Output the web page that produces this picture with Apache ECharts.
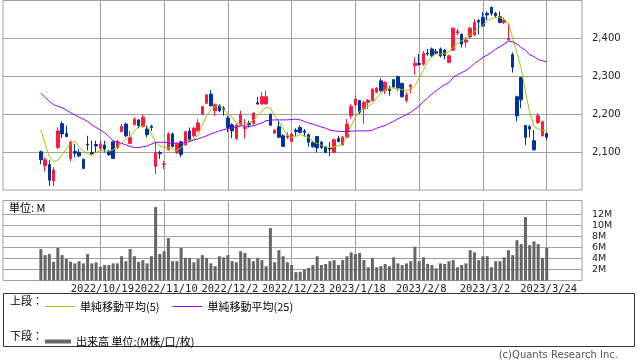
<!DOCTYPE html>
<html><head><meta charset="utf-8">
<script src="https://cdn.jsdelivr.net/npm/echarts@6/dist/echarts.min.js"></script>
<style>html,body{margin:0;padding:0;background:#fff}#c{width:638px;height:362px}</style>
</head><body><div id="c"></div>
<script>
const dates = [
'2022/9/28','2022/9/29','2022/9/30','2022/10/3','2022/10/4','2022/10/5','2022/10/6','2022/10/7','2022/10/11','2022/10/12',
'2022/10/13','2022/10/14','2022/10/17','2022/10/18','2022/10/19','2022/10/20','2022/10/21','2022/10/24','2022/10/25','2022/10/26',
'2022/10/27','2022/10/28','2022/10/31','2022/11/1','2022/11/2','2022/11/4','2022/11/7','2022/11/8','2022/11/9','2022/11/10',
'2022/11/11','2022/11/14','2022/11/15','2022/11/16','2022/11/17','2022/11/18','2022/11/21','2022/11/22','2022/11/24','2022/11/25',
'2022/11/28','2022/11/29','2022/11/30','2022/12/1','2022/12/2','2022/12/5','2022/12/6','2022/12/7','2022/12/8','2022/12/9',
'2022/12/12','2022/12/13','2022/12/14','2022/12/15','2022/12/16','2022/12/19','2022/12/20','2022/12/21','2022/12/22','2022/12/23',
'2022/12/26','2022/12/27','2022/12/28','2022/12/29','2022/12/30','2023/1/4','2023/1/5','2023/1/6','2023/1/10','2023/1/11',
'2023/1/12','2023/1/13','2023/1/16','2023/1/17','2023/1/18','2023/1/19','2023/1/20','2023/1/23','2023/1/24','2023/1/25',
'2023/1/26','2023/1/27','2023/1/30','2023/1/31','2023/2/1','2023/2/2','2023/2/3','2023/2/6','2023/2/7','2023/2/8',
'2023/2/9','2023/2/10','2023/2/13','2023/2/14','2023/2/15','2023/2/16','2023/2/17','2023/2/20','2023/2/21','2023/2/22',
'2023/2/24','2023/2/27','2023/2/28','2023/3/1','2023/3/2','2023/3/3','2023/3/6','2023/3/7','2023/3/8','2023/3/9',
'2023/3/10','2023/3/13','2023/3/14','2023/3/15','2023/3/16','2023/3/17','2023/3/20','2023/3/22','2023/3/23','2023/3/24'];
const tickLabels = ['2022/10/19','2022/11/10','2022/12/2','2022/12/23','2023/1/18','2023/2/8','2023/3/2','2023/3/24'];
const priceTicks = [2100, 2200, 2300, 2400];
const volTicks = [2, 4, 6, 8, 10, 12];

const open = [
2101,2064,2067,2024,2112,2175,2149,2083,2102,2099,
2081,2121,2099,2120,2110,2119,2102,2127,2112,2154,
2174,2123,2172,2185,2167,2161,2168,2062,2099,2067,
2106,2148,2099,2127,2119,2156,2143,2156,2200,2229,
2253,2209,2222,2216,2190,2172,2136,2171,2162,2176,
2176,2230,2227,2227,2200,2150,2167,2143,2139,2128,
2158,2165,2156,2146,2126,2141,2126,2112,2110,2099,
2136,2119,2139,2196,2224,2236,2214,2231,2236,2258,
2288,2262,2266,2291,2299,2281,2236,2273,2328,2334,
2332,2361,2372,2365,2372,2369,2337,2369,2414,2411,
2390,2404,2409,2447,2455,2466,2482,2466,2457,2442,
2396,2357,2246,2297,2170,2167,2130,2178,2143,2149];
const close = [
2080,2080,2026,2053,2156,2148,2141,2126,2097,2090,
2057,2119,2095,2116,2121,2108,2093,2083,2128,2168,
2143,2139,2187,2170,2192,2146,2165,2099,2096,2069,
2149,2115,2121,2094,2154,2133,2163,2177,2220,2251,
2222,2225,2209,2213,2165,2156,2171,2200,2165,2172,
2203,2227,2246,2246,2171,2158,2139,2115,2143,2148,
2154,2152,2152,2126,2114,2111,2112,2099,2108,2133,
2128,2139,2174,2220,2240,2205,2231,2237,2266,2269,
2262,2284,2262,2272,2269,2246,2251,2277,2334,2331,
2361,2359,2354,2361,2354,2354,2354,2427,2418,2385,
2396,2427,2442,2443,2433,2462,2466,2460,2442,2448,
2400,2324,2196,2238,2139,2161,2106,2196,2180,2139];
const high = [
2104,2086,2079,2060,2165,2181,2170,2130,2121,2108,
2083,2143,2130,2130,2130,2130,2106,2128,2132,2174,
2178,2156,2192,2187,2199,2170,2172,2126,2104,2077,
2152,2152,2126,2130,2156,2165,2167,2187,2222,2253,
2264,2229,2227,2222,2196,2176,2176,2209,2187,2183,
2205,2246,2258,2262,2202,2161,2183,2148,2152,2152,
2163,2170,2161,2149,2130,2143,2130,2117,2126,2134,
2143,2143,2187,2227,2251,2237,2236,2240,2269,2272,
2295,2287,2275,2293,2302,2284,2258,2280,2350,2359,
2367,2372,2376,2372,2376,2372,2357,2429,2425,2413,
2404,2431,2451,2451,2470,2471,2484,2470,2471,2455,
2440,2363,2249,2299,2172,2172,2158,2203,2183,2152];
const low = [
2068,2049,2011,2010,2108,2137,2139,2075,2086,2086,
2055,2104,2090,2099,2104,2099,2090,2082,2108,2152,
2139,2121,2172,2163,2165,2139,2156,2042,2082,2055,
2104,2112,2095,2086,2117,2130,2139,2155,2199,2227,
2220,2196,2205,2196,2152,2137,2132,2170,2136,2165,
2172,2225,2225,2225,2170,2149,2137,2115,2134,2126,
2143,2149,2141,2114,2112,2099,2108,2097,2089,2097,
2126,2117,2137,2187,2221,2200,2174,2214,2234,2255,
2258,2253,2249,2269,2262,2244,2231,2255,2304,2328,
2328,2354,2350,2359,2350,2345,2334,2367,2407,2376,
2376,2398,2407,2411,2431,2448,2460,2454,2440,2438,
2394,2310,2181,2216,2119,2139,2104,2174,2141,2132];
const volume = [
5.7,4.6,4.8,3.4,5.9,4.6,3.9,3.4,3.1,3.5,
3.1,4.8,3.1,3.3,2.5,2.8,2.8,3.1,3.1,4.4,
3.5,5.7,4.4,3.4,3.7,3.1,4.4,13.3,4.8,5.3,
7.7,3.5,3.5,5.9,4.1,4.1,3.3,3.9,4.6,4.1,
3.1,2.6,4.4,4.2,4.6,3.5,3.3,5.3,5.0,4.1,
3.5,4.1,3.7,2.6,9.5,3.3,5.5,4.4,3.3,2.8,
1.5,1.6,2.0,2.3,2.8,4.4,2.8,3.0,3.5,3.7,
2.8,3.7,4.4,5.1,4.8,5.0,3.7,2.4,4.1,2.4,
2.6,3.0,2.6,4.2,3.1,2.8,3.1,3.5,6.1,3.5,
4.2,3.0,2.8,2.2,3.1,3.0,3.5,3.7,2.4,2.8,
3.1,5.5,5.1,3.7,4.4,4.4,2.4,3.5,3.5,4.2,
5.5,4.6,7.3,6.6,11.5,6.4,7.1,6.6,4.1,5.9];
const ma5 = [
2159,2121,2088,2075,2079,2093,2108,2121,2130,2114,
2102,2095,2093,2099,2104,2103,2102,2106,2114,2123,
2134,2141,2156,2167,2168,2169,2148,2126,2116,2112,
2112,2108,2104,2111,2126,2129,2134,2146,2172,2196,
2211,2221,2223,2211,2202,2192,2177,2173,2173,2178,
2183,2196,2209,2218,2216,2196,2181,2161,2144,2139,
2141,2146,2143,2139,2127,2123,2118,2114,2112,2114,
2117,2121,2141,2169,2193,2209,2216,2221,2228,2243,
2255,2264,2269,2269,2267,2265,2262,2265,2275,2295,
2316,2339,2352,2359,2359,2360,2366,2376,2387,2394,
2400,2410,2418,2425,2436,2447,2452,2455,2455,2450,
2440,2400,2362,2321,2259,2205,2168,2161,2158,2156];
const ma25 = [
2256,2244,2234,2225,2221,2217,2211,2204,2198,2192,
2187,2181,2172,2165,2158,2151,2141,2130,2127,2123,
2119,2115,2112,2112,2114,2116,2121,2126,2126,2126,
2124,2123,2123,2123,2125,2128,2132,2135,2139,2143,
2148,2152,2156,2159,2162,2164,2166,2169,2169,2167,
2170,2173,2177,2183,2184,2185,2185,2185,2185,2186,
2187,2185,2181,2177,2174,2170,2166,2163,2158,2156,
2155,2154,2154,2155,2156,2156,2156,2156,2158,2163,
2167,2170,2176,2181,2188,2193,2199,2205,2213,2222,
2233,2243,2253,2262,2270,2278,2283,2297,2304,2310,
2315,2324,2334,2341,2350,2356,2363,2372,2378,2385,
2393,2391,2385,2376,2369,2357,2352,2344,2341,2338];

const idx = dates.map((d, i) => i);
const tickIdx = tickLabels.map(t => dates.indexOf(t));
const candleData = idx.map(i => [i, open[i], close[i], low[i], high[i]]);
const volData = idx.map(i => [i, volume[i]]);
const ma5Data = idx.map(i => [i, ma5[i]]);
const ma25Data = idx.map(i => [i, ma25[i]]);

const GRID = '#a0a0a0';
const TXT = '#222';
const XMIN = -8.9, XMAX = 127.3;
const UP = '#ff1a40', DOWN = '#003399';
const C5 = '#99cc00', C25 = '#9900ff', CV = '#666666';
const NAME5 = '単純移動平均(5)', NAME25 = '単純移動平均(25)', NAMEV = '出来高 単位:(M株/口/枚)';
const JP = 'Noto Sans CJK JP';

const chart = echarts.init(document.getElementById('c'), null, {renderer: 'canvas'});
chart.setOption({
  animation: false,
  backgroundColor: '#fff',
  grid: [
    {left: 3, width: 579, top: 0.5, height: 189.5, show: true, borderColor: GRID, borderWidth: 1, backgroundColor: '#fff'},
    {left: 3, width: 579, top: 200.5, height: 80, show: true, borderColor: GRID, borderWidth: 1, backgroundColor: '#fff'}
  ],
  xAxis: [
    {type: 'value', gridIndex: 0, min: XMIN, max: XMAX,
     axisLine: {show: false}, axisTick: {show: false, customValues: tickIdx},
     axisLabel: {show: false, customValues: tickIdx},
     splitLine: {show: true, lineStyle: {color: GRID, width: 1}}},
    {type: 'value', gridIndex: 1, min: XMIN, max: XMAX,
     axisLine: {show: false}, axisTick: {show: false, customValues: tickIdx},
     axisLabel: {show: true, customValues: tickIdx, formatter: v => dates[Math.round(v)],
                 margin: 3, fontFamily: 'DejaVu Sans Mono', fontSize: 10.5, color: TXT, padding: [0, 0, 0, 4]},
     splitLine: {show: true, lineStyle: {color: GRID, width: 1}}}
  ],
  yAxis: [
    {type: 'value', gridIndex: 0, position: 'right', min: 2000, max: 2500,
     axisLine: {show: false},
     axisTick: {show: true, length: 7, customValues: priceTicks, lineStyle: {color: GRID}},
     axisLabel: {customValues: priceTicks, formatter: v => v.toLocaleString('en-US'),
                 margin: 10, fontFamily: 'DejaVu Sans', fontSize: 10, color: TXT},
     splitLine: {show: true, lineStyle: {color: GRID, width: 1}}},
    {type: 'value', gridIndex: 1, position: 'right', min: 0, max: 14.5,
     axisLine: {show: false},
     axisTick: {show: true, length: 7, customValues: volTicks, lineStyle: {color: GRID}},
     axisLabel: {customValues: volTicks, formatter: v => v + 'M',
                 margin: 10, fontFamily: 'DejaVu Sans', fontSize: 9.5, color: TXT, lineHeight: 10},
     splitLine: {show: true, lineStyle: {color: GRID, width: 1}}}
  ],
  legend: [
    {data: [NAME5, NAME25], left: 40, top: 296, icon: 'rect', itemWidth: 30, itemHeight: 1, itemGap: 13,
     selectedMode: false, textStyle: {fontFamily: JP, fontSize: 11, color: '#000'}},
    {data: [NAMEV], left: 40, top: 331, icon: 'rect', itemWidth: 26, itemHeight: 4,
     selectedMode: false, textStyle: {fontFamily: JP, fontSize: 11, color: '#000'}}
  ],
  graphic: [
    {type: 'text', left: 9, top: 202, style: {text: '単位: M', fontFamily: JP, fontSize: 11, fill: '#000'}},
    {type: 'rect', shape: {x: 3.5, y: 293.5, width: 631, height: 53}, style: {fill: 'none', stroke: '#333', lineWidth: 1}},
    {type: 'text', left: 10, top: 295, style: {text: '上段：', fontFamily: JP, fontSize: 11, fill: '#000'}},
    {type: 'text', left: 10, top: 330, style: {text: '下段：', fontFamily: JP, fontSize: 11, fill: '#000'}},
    {type: 'text', right: 20, top: 350, style: {text: '(c)Quants Research Inc.', fontFamily: 'DejaVu Sans', fontSize: 10, fill: '#555'}}
  ],
  series: [
    {type: 'candlestick', name: '株価', xAxisIndex: 0, yAxisIndex: 0, data: candleData,
     encode: {x: 0, y: [1, 2, 3, 4]}, barWidth: 3,
     itemStyle: {color: UP, color0: DOWN, borderColor: UP, borderColor0: DOWN, borderWidth: 1}},
    {type: 'line', name: NAME5, xAxisIndex: 0, yAxisIndex: 0, data: ma5Data, showSymbol: false, symbol: 'none',
     lineStyle: {color: C5, width: 1}, itemStyle: {color: C5}},
    {type: 'line', name: NAME25, xAxisIndex: 0, yAxisIndex: 0, data: ma25Data, showSymbol: false, symbol: 'none',
     lineStyle: {color: C25, width: 1}, itemStyle: {color: C25}},
    {type: 'bar', name: NAMEV, xAxisIndex: 1, yAxisIndex: 1, data: volData, barWidth: 3,
     itemStyle: {color: CV}}
  ]
});
</script></body></html>
